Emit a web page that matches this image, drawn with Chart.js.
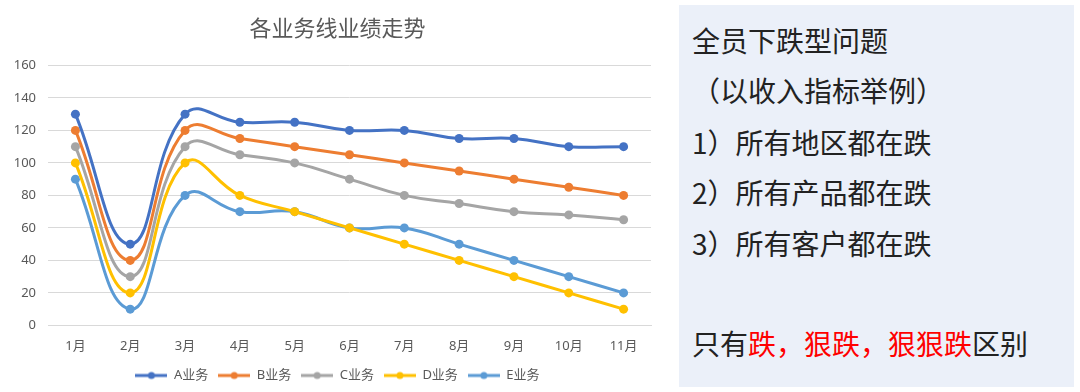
<!DOCTYPE html>
<html>
<head>
<meta charset="utf-8">
<script src="https://cdn.jsdelivr.net/npm/chart.js@4/dist/chart.umd.min.js"></script>
<style>
  body { margin: 0; background: #fff; width: 1080px; height: 392px; overflow: hidden; position: relative; }
  #wrap { position: absolute; left: 0; top: 0; width: 660px; height: 392px; }
  #panel {
    position: absolute; left: 679px; top: 5px; width: 395px; height: 382px;
    background: #ebf0f9;
    font-family: "Noto Sans CJK SC", sans-serif; font-size: 28px; color: #222;
  }
  #panel div { position: absolute; left: 13px; line-height: 36px; white-space: nowrap; }
  .red { color: #ff0000; }
</style>
</head>
<body>
<div id="wrap"><canvas id="myChart"></canvas></div>
<div id="panel">
  <div style="top:17px">全员下跌型问题</div>
  <div style="top:67px">（以收入指标举例）</div>
  <div style="top:119px">1）所有地区都在跌</div>
  <div style="top:169px">2）所有产品都在跌</div>
  <div style="top:220px">3）所有客户都在跌</div>
  <div style="top:320px">只有<span class="red">跌，狠跌，狠狠跌</span>区别</div>
</div>
<script>
// 数据
const meses = ['1月', '2月', '3月', '4月', '5月', '6月', '7月', '8月', '9月', '10月', '11月'];
const serieA = [130, 50, 130, 125, 125, 120, 120, 115, 115, 110, 110];
const serieB = [120, 40, 120, 115, 110, 105, 100, 95, 90, 85, 80];
const serieC = [110, 30, 110, 105, 100, 90, 80, 75, 70, 68, 65];
const serieD = [100, 20, 100, 80, 70, 60, 50, 40, 30, 20, 10];
const serieE = [90, 10, 80, 70, 70, 60, 60, 50, 40, 30, 20];
const nombres = ['A业务', 'B业务', 'C业务', 'D业务', 'E业务'];
const colores = ['#4472c4', '#ed7d31', '#a5a5a5', '#ffc000', '#5b9bd5'];
const series = [serieA, serieB, serieC, serieD, serieE];

// legend icon: line with a dot
function iconoLeyenda(color) {
    const c = document.createElement('canvas');
    c.width = 32; c.height = 10;
    const g = c.getContext('2d');
    g.strokeStyle = color;
    g.lineWidth = 3;
    g.beginPath(); g.moveTo(0, 5); g.lineTo(32, 5); g.stroke();
    g.fillStyle = color;
    g.beginPath(); g.arc(16, 5, 3.5, 0, Math.PI * 2); g.fill();
    return c;
}

const fuente = '"Noto Sans", "Noto Sans CJK SC", sans-serif';
const gris = '#595959';

const datasets = series.map((data, i) => ({
    label: nombres[i],
    data: data,
    borderColor: colores[i],
    backgroundColor: colores[i],
    borderWidth: 3,
    pointRadius: 4.5,
    pointBorderWidth: 0,
    pointStyle: 'circle',
    legendIcon: iconoLeyenda(colores[i]),
    tension: 0.45
}));

// nudge title and legend a bit to the right, like the original
const centrarBloques = {
    id: 'centrarBloques',
    afterLayout(chart) {
        if (chart.titleBlock) chart.titleBlock.left += 24;
        if (chart.legend) chart.legend.left += 24;
    }
};

const ctx = document.getElementById('myChart').getContext('2d');
new Chart(ctx, {
    type: 'line',
    data: { labels: meses, datasets: datasets },
    plugins: [centrarBloques],
    options: {
        responsive: true,
        maintainAspectRatio: false,
        animation: false,
        layout: { padding: { left: 0, right: 9, top: 0, bottom: 0 } },
        plugins: {
            title: {
                display: true,
                text: '各业务线业绩走势',
                color: gris,
                font: { family: fuente, size: 22, weight: 'normal' },
                padding: { top: 17, bottom: 22 }
            },
            legend: {
                position: 'bottom',
                labels: {
                    usePointStyle: true,
                    pointStyleWidth: 32,
                    color: gris,
                    font: { family: fuente, size: 13 },
                    padding: 10,
                    generateLabels: (chart) => chart.data.datasets.map((d, i) => ({
                        text: d.label,
                        pointStyle: d.legendIcon,
                        fillStyle: d.borderColor,
                        strokeStyle: d.borderColor,
                        lineWidth: 0,
                        fontColor: gris,
                        datasetIndex: i
                    }))
                }
            },
            tooltip: { enabled: false }
        },
        scales: {
            x: {
                offset: true,
                grid: { display: false },
                border: { display: true, color: '#d9d9d9' },
                ticks: { color: gris, font: { family: fuente, size: 13 }, padding: 5 }
            },
            y: {
                min: 0,
                max: 160,
                ticks: { stepSize: 20, color: gris, font: { family: fuente, size: 13 }, padding: 12 },
                grid: { color: '#d9d9d9', drawTicks: false },
                border: { display: false },
                afterFit: (scale) => { scale.width = 48; }
            }
        }
    }
});
</script>
</body>
</html>
